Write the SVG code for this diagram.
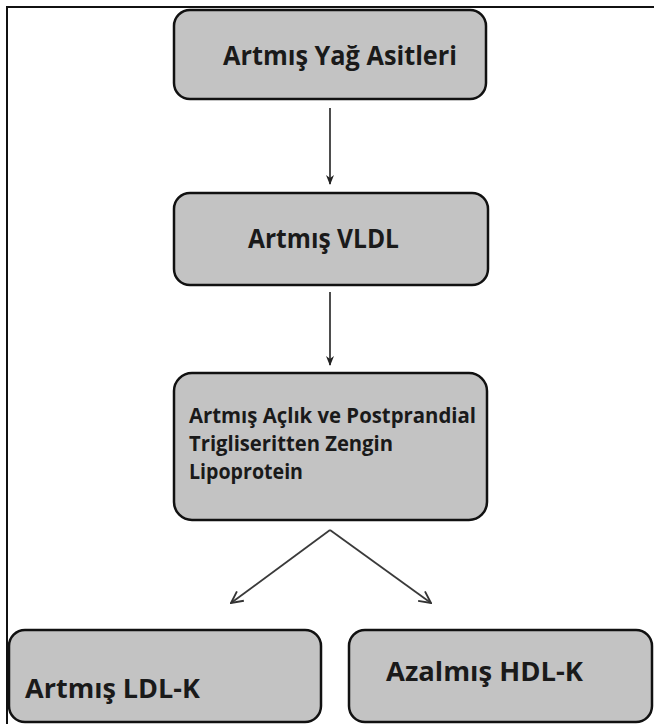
<svg xmlns="http://www.w3.org/2000/svg" width="654" height="724" viewBox="0 0 654 724">
<defs>
<style>
.box{fill:#c3c3c3;stroke:#111;stroke-width:2.5}
.t{font-family:"Open Sans","Liberation Sans",sans-serif;font-weight:700;fill:#1a1a1a}
.c{stroke:#3a3a3a;stroke-width:1.8;fill:none}
</style>
<marker id="ah" viewBox="0 0 10 10" refX="9" refY="5" markerWidth="10" markerHeight="10" markerUnits="userSpaceOnUse" orient="auto">
<path d="M0,1 L10,5 L0,9 L3,5 Z" fill="#222"/>
</marker>
<marker id="av" viewBox="0 0 12 12" refX="11" refY="6" markerWidth="14" markerHeight="14" markerUnits="userSpaceOnUse" orient="auto">
<path d="M1,1 L11,6 L1,11" fill="none" stroke="#333" stroke-width="1.6"/>
</marker>
</defs>
<rect width="654" height="724" fill="#fff"/>
<path d="M7,724 V7 H654" fill="none" stroke="#111" stroke-width="2"/>
<g id="connectors">
<line class="c" x1="330" y1="108" x2="330" y2="184" marker-end="url(#ah)"/>
<line class="c" x1="330" y1="292" x2="330" y2="365" marker-end="url(#ah)"/>
<line class="c" x1="330" y1="530" x2="231" y2="603" marker-end="url(#av)"/>
<line class="c" x1="330" y1="530" x2="431" y2="603" marker-end="url(#av)"/>
</g>
<g id="n1">
<rect class="box" x="174" y="10" width="312" height="89" rx="16"/>
<text class="t" x="223" y="65" font-size="27" textLength="234" lengthAdjust="spacingAndGlyphs">Artmış Yağ Asitleri</text>
</g>
<g id="n2">
<rect class="box" x="174" y="193" width="314" height="92" rx="16"/>
<text class="t" x="248" y="248" font-size="27" textLength="151" lengthAdjust="spacingAndGlyphs">Artmış VLDL</text>
</g>
<g id="n3">
<rect class="box" x="174" y="373" width="313" height="147" rx="18"/>
<text class="t" font-size="21">
<tspan x="189" y="423" textLength="287" lengthAdjust="spacingAndGlyphs">Artmış Açlık ve Postprandial</tspan>
<tspan x="189" y="451" textLength="204" lengthAdjust="spacingAndGlyphs">Trigliseritten Zengin</tspan>
<tspan x="189" y="479" textLength="114" lengthAdjust="spacingAndGlyphs">Lipoprotein</tspan>
</text>
</g>
<g id="n4">
<rect class="box" x="9" y="630" width="312" height="92" rx="16"/>
<text class="t" x="25" y="698" font-size="27" textLength="175" lengthAdjust="spacingAndGlyphs">Artmış LDL-K</text>
</g>
<g id="n5">
<rect class="box" x="349" y="630" width="303" height="92" rx="16"/>
<text class="t" x="386" y="681" font-size="27" textLength="197" lengthAdjust="spacingAndGlyphs">Azalmış HDL-K</text>
</g>
</svg>
